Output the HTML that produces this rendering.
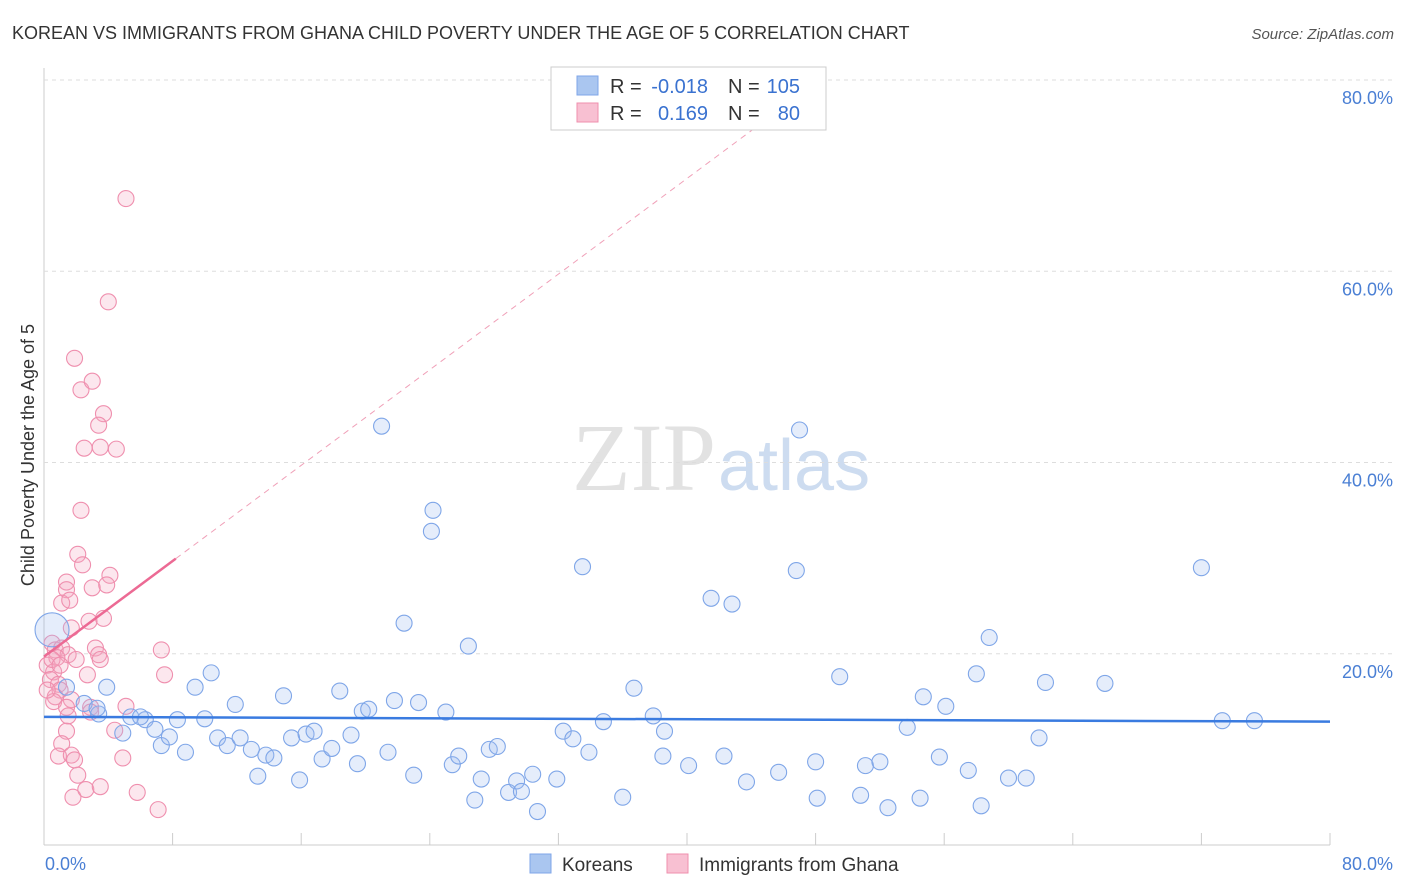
<!DOCTYPE html>
<html><head><meta charset="utf-8"><style>
body{margin:0;background:#fff;font-family:"Liberation Sans",sans-serif;}
#wrap{position:relative;width:1406px;height:892px;overflow:hidden;}
</style></head><body>
<div id="wrap">
<svg id="chart" width="1406" height="892">
<text x="12" y="39" font-size="18" fill="#333">KOREAN VS IMMIGRANTS FROM GHANA CHILD POVERTY UNDER THE AGE OF 5 CORRELATION CHART</text>
<text x="1394" y="39" font-size="15" fill="#555" font-style="italic" text-anchor="end">Source: ZipAtlas.com</text>
<text x="716" y="490" font-size="96" fill="#e2e2e2" text-anchor="end" font-family="Liberation Serif,serif">ZIP</text>
<text x="718" y="490" font-size="72" fill="#cddcf0" font-family="Liberation Sans,sans-serif">atlas</text>
<text transform="translate(34,455) rotate(-90)" font-size="18" fill="#333" text-anchor="middle">Child Poverty Under the Age of 5</text>
<g id="grid"></g><g id="pts"></g><g id="lines"></g>
<text x="45" y="870" font-size="18" fill="#4a7fd4">0.0%</text>
<text x="1393" y="870" font-size="18" fill="#4a7fd4" text-anchor="end">80.0%</text>
<g font-size="20">
<rect x="551" y="67" width="275" height="63" fill="#fff" stroke="#ccc"/>
<rect x="577" y="76" width="21" height="19" fill="#aac6f0" stroke="#7fa6e8"/>
<rect x="577" y="103" width="21" height="19" fill="#f8c0d2" stroke="#ef8fae"/>
<text x="610" y="93" fill="#333">R =</text>
<text x="708" y="93" fill="#3a72d0" text-anchor="end">-0.018</text>
<text x="728" y="93" fill="#333">N =</text>
<text x="800" y="93" fill="#3a72d0" text-anchor="end">105</text>
<text x="610" y="120" fill="#333">R =</text>
<text x="708" y="120" fill="#3a72d0" text-anchor="end">0.169</text>
<text x="728" y="120" fill="#333">N =</text>
<text x="800" y="120" fill="#3a72d0" text-anchor="end">80</text>
</g>
<g>
<rect x="530" y="854" width="21" height="19" fill="#aac6f0" stroke="#7fa6e8"/>
<text x="562" y="871" font-size="19" fill="#333">Koreans</text>
<rect x="667" y="854" width="21" height="19" fill="#f8c0d2" stroke="#ef8fae"/>
<text x="699" y="871" font-size="19" fill="#333">Immigrants from Ghana</text>
</g>
</svg></div>
<script>
const yTicks=[20,40,60,80];
const xTicks=[0,8,16,24,32,40,48,56,64,72,80];
const koreanX=[0.5,1.4,3.9,2.5,3.4,3.3,4.9,5.4,6.3,6.0,6.9,7.3,7.8,8.3,8.8,9.4,10.0,10.4,10.8,11.4,11.9,12.2,12.9,13.3,13.8,14.3,14.9,15.4,15.9,16.3,16.8,17.3,17.9,18.4,19.1,19.5,19.8,20.2,21.0,21.4,21.8,22.4,23.0,23.3,24.2,24.1,25.0,25.4,25.8,26.4,26.8,27.2,27.7,28.2,28.9,29.4,29.7,30.4,30.7,31.9,32.3,32.9,33.5,33.9,34.8,36.0,36.7,37.9,38.5,38.6,40.1,41.5,42.3,42.8,43.7,45.7,46.8,47.0,48.0,48.1,49.5,50.8,51.1,52.0,52.5,53.7,54.5,54.7,55.7,56.1,57.5,58.0,58.3,58.8,60.0,61.1,61.9,62.3,66.0,72.0,73.3,75.3];
const koreanY=[22.5,16.5,16.5,14.8,13.7,14.3,11.7,13.4,13.1,13.4,12.1,10.4,11.3,13.1,9.7,16.5,13.2,18.0,11.2,10.4,14.7,11.2,10.0,7.2,9.4,9.1,15.6,11.2,6.8,11.6,11.9,9.0,10.1,16.1,11.5,8.5,14.0,14.2,43.8,9.7,15.1,23.2,7.3,14.9,35.0,32.8,13.9,8.4,9.3,20.8,4.7,6.9,10.0,10.3,5.5,6.7,5.6,7.4,3.5,6.9,11.9,11.1,29.1,9.7,12.9,5.0,16.4,13.5,9.3,11.9,8.3,25.8,9.3,25.2,6.6,7.6,28.7,43.4,8.7,4.9,17.6,5.2,8.3,8.7,3.9,12.3,4.9,15.5,9.2,14.5,7.8,17.9,4.1,21.7,7.0,7.0,11.2,17.0,16.9,29.0,13.0,13.0];
const ghanaX=[5.1,4.0,1.9,2.3,3.0,3.7,3.4,2.5,3.5,4.5,2.3,2.1,2.4,1.4,4.1,1.4,3.0,3.9,1.1,1.6,3.7,2.8,1.7,0.5,0.7,1.1,1.5,2.0,3.2,3.4,0.8,0.2,0.6,0.4,0.9,1.0,0.7,0.6,1.7,1.4,1.5,2.9,2.9,4.4,1.4,1.1,0.9,1.7,1.9,2.1,1.8,2.6,3.5,4.9,5.8,7.1,7.3,7.5,2.7,3.5,0.2,0.5,1.0,5.1];
const ghanaY=[67.6,56.8,50.9,47.6,48.5,45.1,43.9,41.5,41.6,41.4,35.0,30.4,29.3,27.5,28.2,26.7,26.9,27.2,25.3,25.6,23.7,23.4,22.7,21.1,20.4,20.6,19.9,19.4,20.6,19.9,19.6,18.8,18.1,17.3,16.8,16.2,15.5,15.0,15.2,14.4,13.5,14.4,13.9,12.0,11.9,10.6,9.3,9.4,8.9,7.3,5.0,5.8,6.1,9.1,5.5,3.7,20.4,17.8,17.8,19.4,16.2,19.4,18.8,14.5];
const koreanTrend=[13.4,12.9];
const ghanaTrend=[19.7,1.25];
const X=v=>44+v/80*1286, Y=v=>845-v*9.5625;
const NS='http://www.w3.org/2000/svg';
function mk(tag,attrs,parent){const e=document.createElementNS(NS,tag);for(const k in attrs)e.setAttribute(k,attrs[k]);parent.appendChild(e);return e;}
const g=document.getElementById('grid');
mk('line',{x1:44,y1:68,x2:44,y2:845,stroke:'#ccc'},g);
mk('line',{x1:44,y1:845,x2:1330,y2:845,stroke:'#ccc'},g);
yTicks.forEach(t=>{
 const l=mk('line',{x1:44,y1:Y(t),x2:1394,y2:Y(t),stroke:'#ddd','stroke-dasharray':'4,4'},g);
 
 
 const tx=mk('text',{x:1393,y:Y(t)+24,'font-size':18,fill:'#4a7fd4','text-anchor':'end'},g);
 tx.textContent=t.toFixed(1)+'%';
 
 
});
xTicks.forEach(t=>{
 const l=mk('line',{x1:X(t),y1:833,x2:X(t),y2:845,stroke:'#ccc'},g);
 
 
});
const p=document.getElementById('pts');
ghanaX.forEach((x,i)=>{
 const c=mk('circle',{cx:X(x),cy:Y(ghanaY[i]),r:8,fill:'rgba(245,170,195,0.28)',stroke:'#ef8fae','stroke-width':1.1},p);
 
 
});
koreanX.forEach((x,i)=>{
 const c=mk('circle',{cx:X(x),cy:Y(koreanY[i]),r:i===0?17:8,fill:'rgba(160,190,240,0.28)',stroke:'#7fa6e8','stroke-width':1.1},p);
 
 
});
const L=document.getElementById('lines');
const kt=mk('line',{x1:X(0),y1:Y(koreanTrend[0]),x2:X(80),y2:Y(koreanTrend[1]),stroke:'#3a7be0','stroke-width':2.5},L);


const xe=(80-ghanaTrend[0])/ghanaTrend[1];
const gd=mk('line',{x1:X(8.2),y1:Y(ghanaTrend[0]+ghanaTrend[1]*8.2),x2:X(xe),y2:Y(80),stroke:'#f0a0b8','stroke-width':1,'stroke-dasharray':'6,5'},L);


const gt=mk('line',{x1:X(0),y1:Y(ghanaTrend[0]),x2:X(8.2),y2:Y(ghanaTrend[0]+ghanaTrend[1]*8.2),stroke:'#ec6a94','stroke-width':2.5},L);


</script>
</body></html>
